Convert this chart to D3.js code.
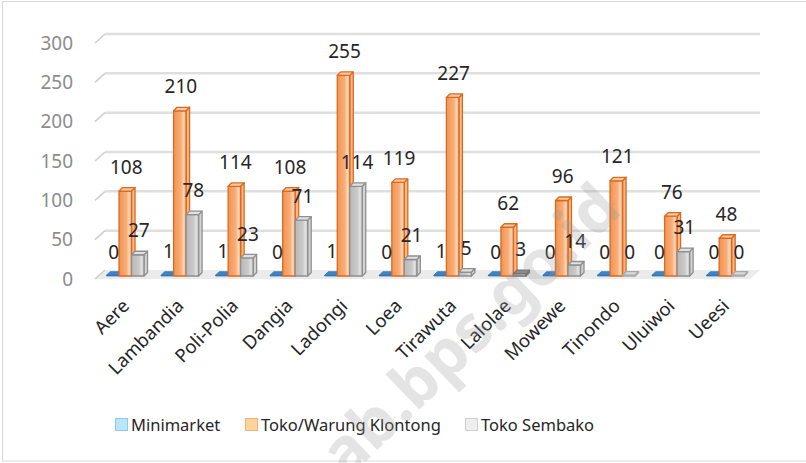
<!DOCTYPE html>
<html><head><meta charset="utf-8">
<script src="https://cdn.jsdelivr.net/npm/d3@7"></script>
<style>body{margin:0;background:#fff}svg{display:block}text{font-family:"Noto Sans",sans-serif}</style>
</head><body>
<svg id="c" width="806" height="463"></svg>
<script>
const categories = ["Aere","Lambandia","Poli-Polia","Dangia","Ladongi","Loea","Tirawuta","Lalolae","Mowewe","Tinondo","Uluiwoi","Ueesi"];
const minimarket = [0,1,1,0,1,0,1,0,0,0,0,0];
const klontong = [108,210,114,108,255,119,227,62,96,121,76,48];
const sembako = [27,78,23,71,114,21,5,3,14,0,31,0];
const seriesNames = ["Minimarket","Toko/Warung Klontong","Toko Sembako"];
const yTicks = [0,50,100,150,200,250,300];

const svg = d3.select("#c");
const defs = svg.append("defs");
function grad(id, stops){
  const g = defs.append("linearGradient").attr("id",id).attr("x1","0").attr("x2","1").attr("y1","0").attr("y2","0");
  stops.forEach(s=>g.append("stop").attr("offset",s[0]).attr("stop-color",s[1]));
}
grad("gOr",[["0%","#f29450"],["60%","#f8ae7a"],["82%","#fcd6b8"],["100%","#f6a86f"]]);
grad("gGr",[["0%","#b9b9b9"],["60%","#c9c9c9"],["82%","#e2e2e2"],["100%","#c3c3c3"]]);

// border
svg.append("rect").attr("x",2.5).attr("y",1.5).attr("width",900).attr("height",459.5)
  .attr("fill","none").attr("stroke","#d9d9d9").attr("stroke-width",1);

const x = d3.scaleBand().domain(categories).range([98, 752.7]).padding(0);
const y = d3.scaleLinear().domain([0,300]).range([276, 40]);

// floor
svg.append("path")
  .attr("d",`M95,${y(0)+3}L750,${y(0)+3}L760,${y(0)-6}L105,${y(0)-6}Z`)
  .attr("fill","#ebebeb");

// gridlines (back wall) + side diagonal
const gl = svg.append("g");
yTicks.forEach(v=>{
  if (v>0) gl.append("line").attr("x1",105).attr("x2",760).attr("y1",y(v)-6).attr("y2",y(v)-6)
    .attr("stroke","#dfdfdf").attr("stroke-width",2.5);
  gl.append("line").attr("x1",95).attr("y1",y(v)+3).attr("x2",105).attr("y2",y(v)-6)
    .attr("stroke","#cfcfcf").attr("stroke-width",1.6);
});

// y labels
svg.append("g").selectAll("text").data(yTicks).join("text")
  .attr("x",73).attr("y",v=>y(v)+3).attr("dy","0.35em").attr("text-anchor","end")
  .attr("font-size",19).attr("fill","#8c8c8c").text(d=>d);

// bars
const W = 12.5, dx = 3.5, dy = 3.5;
const styles = [
  {front:"#2e75b6", side:"#3a7fc2", top:"#3d84c8", stroke:"#2e75b6"},
  {front:"url(#gOr)", side:"#f7b88a", top:"#fac9a2", stroke:"#dc6a1e"},
  {front:"url(#gGr)", side:"#d3d3d3", top:"#e2e2e2", stroke:"#8f8f8f"}
];
const series = [minimarket, klontong, sembako];
const bars = svg.append("g");
const labels = svg.append("g");
categories.forEach((c,i)=>{
  const cx = x(c) + x.bandwidth()/2;
  series.forEach((s,k)=>{
    const v = s[i];
    const x0 = cx - W/2 + (k-1)*W;
    const yb = y(0), yt = Math.min(y(v), y(0)-0.8);
    const st = styles[k];
    const g = bars.append("g").attr("stroke",st.stroke).attr("stroke-width",k===0?0.8:1.3).attr("stroke-linejoin","round");
    let sideFill = st.side, topFill = st.top, frontFill = st.front;
    if (k===2 && v===0){ topFill="#dadada"; g.attr("stroke","#a8a8a8"); }
    if (k===2 && v>0 && v<4){ topFill="#8c8c8c"; sideFill="#7f7f7f"; g.attr("stroke","#707070"); }
    g.append("path").attr("d",`M${x0+W},${yt}L${x0+W+dx},${yt-dy}L${x0+W+dx},${yb-dy}L${x0+W},${yb}Z`).attr("fill",sideFill);
    g.append("rect").attr("x",x0).attr("y",yt).attr("width",W).attr("height",yb-yt).attr("fill",frontFill);
    g.append("path").attr("d",`M${x0},${yt}L${x0+W},${yt}L${x0+W+dx},${yt-dy}L${x0+dx},${yt-dy}Z`).attr("fill",topFill);
    labels.append("text").attr("x",x0+W/2+1).attr("y",y(v)-24).attr("dy","0.35em")
      .attr("text-anchor","middle").attr("font-size",19).attr("fill","#262626").text(v);
  });
});

// category labels
svg.append("g").selectAll("text").data(categories).join("text")
  .attr("text-anchor","end").attr("font-size",18.5).attr("fill","#262626")
  .attr("transform",d=>`translate(${x(d)+x.bandwidth()/2+5},${307}) rotate(-45)`)
  .text(d=>d);

// legend
const legColors = [["#bde5f8","#8ccbee"],["#fdd39e","#f4b27a"],["#eeeeee","#cfcfcf"]];
const legX = [115, 245, 465];
const leg = svg.append("g");
seriesNames.forEach((n,k)=>{
  const g = leg.append("g").attr("transform",`translate(${legX[k]},425)`);
  g.append("rect").attr("x",0.5).attr("y",-6.5).attr("width",12).attr("height",12)
    .attr("fill",legColors[k][0]).attr("stroke",legColors[k][1]);
  g.append("text").attr("x",16).attr("y",0).attr("dy","0.35em").attr("font-size",16.5)
    .attr("fill","#262626").text(n);
});

// watermark
svg.append("text").attr("text-anchor","end")
  .attr("transform","translate(624,212) rotate(-44)")
  .attr("font-family","Liberation Sans, Arial, sans-serif").attr("font-weight","bold")
  .attr("font-size",64).attr("fill","#999").attr("opacity",0.26)
  .text("ab.bps.go.id");
</script>
</body></html>
